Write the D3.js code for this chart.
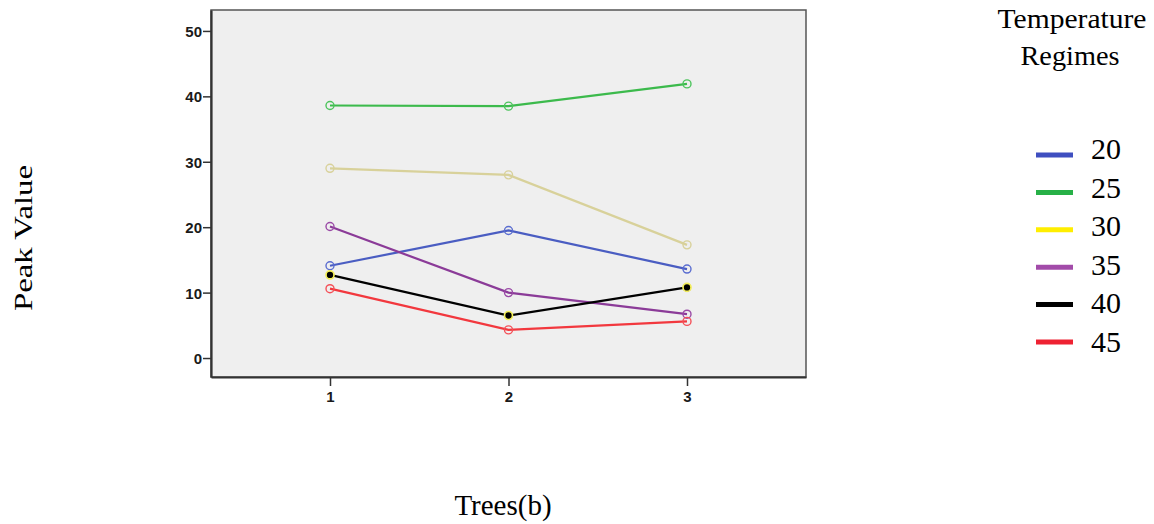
<!DOCTYPE html>
<html>
<head>
<meta charset="utf-8">
<script src="https://cdn.jsdelivr.net/npm/d3@7.9.0/dist/d3.min.js"></script>
<style>
  body { margin: 0; background: #fff; }
  svg { display: block; }
</style>
</head>
<body>
<svg id="chart" width="1154" height="524"></svg>
<script>
// x categories (Trees) and y ticks
const trees = [1, 2, 3];
const yTicks = [0, 10, 20, 30, 40, 50];

// one array per temperature regime
const regimes = ['20', '25', '30', '35', '40', '45'];
const peak20 = [14.1, 19.5, 13.6];
const peak25 = [38.6, 38.5, 41.9];
const peak30 = [29.0, 28.0, 17.3];
const peak35 = [20.1, 10.0, 6.7];
const peak40 = [12.7, 6.5, 10.8];
const peak45 = [10.6, 4.3, 5.6];

const lineColors = ['#4a5dc2', '#3cba4c', '#d8d19a', '#8b3b98', '#000000', '#f2383e'];
const markColors = ['#5a6dd0', '#4cc45c', '#d8d19a', '#9a4aa6', '#f3ee5a', '#f45058'];
const legendColors = ['#3f4fc0', '#27b047', '#ffee00', '#a24ba9', '#000000', '#ee2232'];

const series = [peak20, peak25, peak30, peak35, peak40, peak45].map((vals, i) => ({
  name: regimes[i],
  values: vals.map((v, j) => ({ x: trees[j], y: v }))
}));

const svg = d3.select('#chart');
const plotL = 211, plotR = 806, plotT = 10, plotB = 377;

const x = d3.scaleLinear().domain([1 / 3, 11 / 3]).range([plotL, plotR]);
const y = d3.scaleLinear().domain([-2.9, 53.2]).range([plotB, plotT]);

// plot background
svg.append('rect')
  .attr('x', plotL).attr('y', plotT)
  .attr('width', plotR - plotL).attr('height', plotB - plotT)
  .attr('fill', '#efefef')
  .attr('stroke', '#555').attr('stroke-width', 1.5);

// axes
const yAxis = svg.append('g')
  .attr('transform', `translate(${plotL},0)`)
  .attr('font-size', 15)
  .call(d3.axisLeft(y).tickValues(yTicks).tickSize(8).tickSizeOuter(0).tickPadding(1));
const xAxis = svg.append('g')
  .attr('transform', `translate(0,${plotB})`)
  .call(d3.axisBottom(x).tickValues(trees).tickSize(9).tickSizeOuter(0).tickPadding(5).tickFormat(d3.format('d')));

[yAxis, xAxis].forEach(g => {
  g.attr('font-size', 15).attr('font-family', '"Liberation Sans", Arial, sans-serif');
  g.select('.domain').attr('stroke', '#333').attr('stroke-width', 2.2);
  g.selectAll('.tick line').attr('stroke', '#333').attr('stroke-width', 1.5);
  g.selectAll('.tick text')
    .attr('fill', '#1a1a1a')
    .attr('font-weight', 'bold');
});
yAxis.selectAll('.tick text').attr('dy', '0.36em');

// lines
const line = d3.line().x(d => x(d.x)).y(d => y(d.y));

series.forEach((s, i) => {
  svg.append('path')
    .datum(s.values)
    .attr('d', line)
    .attr('fill', 'none')
    .attr('stroke', lineColors[i])
    .attr('stroke-width', 2.2);
});

series.forEach((s, i) => {
  svg.selectAll(null)
    .data(s.values)
    .join('circle')
    .attr('cx', d => x(d.x))
    .attr('cy', d => y(d.y))
    .attr('r', 4)
    .attr('fill', i === 4 ? '#000' : 'none')
    .attr('stroke', markColors[i])
    .attr('stroke-width', i === 4 ? 1.7 : 1.4);
});

// axis titles
const serif = '"Liberation Serif", "Times New Roman", serif';
svg.append('text')
  .attr('transform', 'translate(32,238) rotate(-90)')
  .attr('text-anchor', 'middle')
  .attr('textLength', 146).attr('lengthAdjust', 'spacingAndGlyphs')
  .style('font-family', serif).style('font-size', '26px')
  .text('Peak Value');

svg.append('text')
  .attr('x', 503).attr('y', 515)
  .attr('text-anchor', 'middle')
  .style('font-family', serif).style('font-size', '29px')
  .text('Trees(b)');

// legend
const legend = svg.append('g');
legend.append('text')
  .attr('x', 1072).attr('y', 28)
  .attr('text-anchor', 'middle')
  .attr('textLength', 149).attr('lengthAdjust', 'spacingAndGlyphs')
  .style('font-family', serif).style('font-size', '27px')
  .text('Temperature');
legend.append('text')
  .attr('x', 1070).attr('y', 65)
  .attr('text-anchor', 'middle')
  .attr('textLength', 99).attr('lengthAdjust', 'spacingAndGlyphs')
  .style('font-family', serif).style('font-size', '27px')
  .text('Regimes');

const swatchY = d3.scalePoint().domain(regimes).range([155, 342]);
const labelY = d3.scalePoint().domain(regimes).range([159, 352]);
regimes.forEach((r, i) => {
  legend.append('line')
    .attr('x1', 1036).attr('x2', 1073)
    .attr('y1', swatchY(r)).attr('y2', swatchY(r))
    .attr('stroke', legendColors[i]).attr('stroke-width', 5);
  legend.append('text')
    .attr('x', 1091).attr('y', labelY(r))
    .style('font-family', serif).style('font-size', '30px')
    .text(r);
});
</script>
</body>
</html>
